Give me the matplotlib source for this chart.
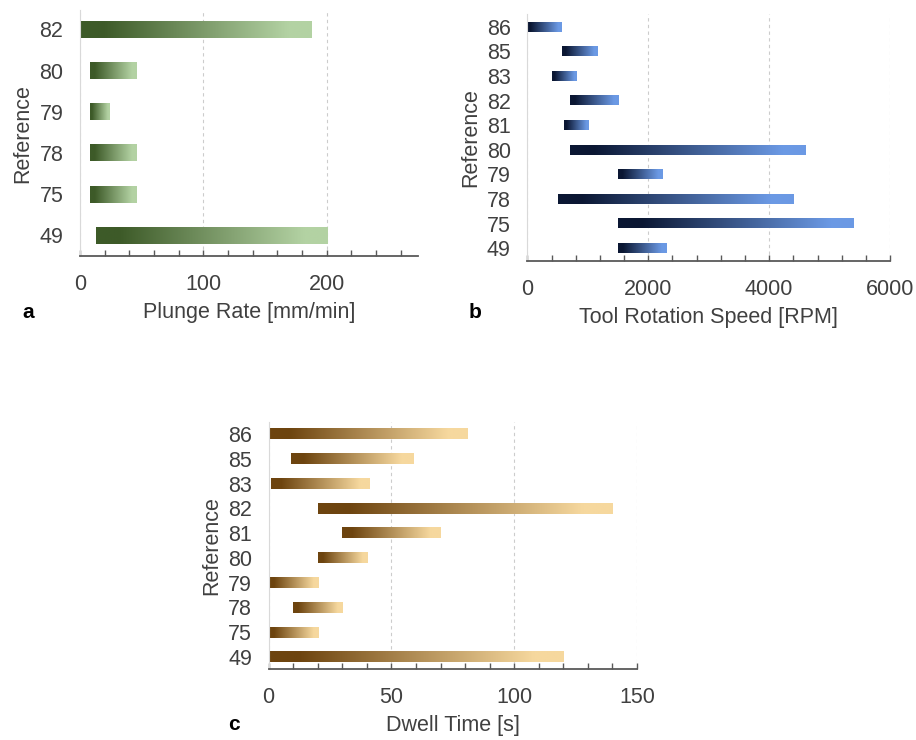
import matplotlib.pyplot as plt
import numpy as np
from matplotlib.colors import LinearSegmentedColormap
from matplotlib.ticker import MultipleLocator

plt.rcParams['font.family'] = ['Liberation Sans', 'DejaVu Sans']

# panel a - plunge rate
refs_a = ['49', '75', '78', '79', '80', '82']
start_a = [12.7, 8, 8, 8, 8, 0]
end_a = [200, 46, 46, 24, 46, 188]

# panel b - tool rotation speed
refs_b = ['49', '75', '78', '79', '80', '81', '82', '83', '85', '86']
start_b = [1500, 1500, 500, 1500, 700, 600, 700, 400, 570, 0]
end_b = [2300, 5400, 4400, 2240, 4600, 1000, 1500, 800, 1160, 570]

# panel c - dwell time
refs_c = ['49', '75', '78', '79', '80', '81', '82', '83', '85', '86']
start_c = [0, 0, 10, 0, 20, 30, 20, 1, 9, 0]
end_c = [120, 20, 30, 20, 40, 70, 140, 41, 59, 81]

TXT = '#404040'


def gradBars(ax, starts, ends, c0, c1, h):
  cmap = LinearSegmentedColormap.from_list('g', [(0, c0), (0.1, c0), (0.9, c1), (1, c1)])
  grad = np.linspace(0, 1, 256).reshape(1, -1)
  for i in range(len(starts)):
    ax.imshow(grad, cmap=cmap, aspect='auto', zorder=2, interpolation='bilinear',
              extent=[starts[i], ends[i], i - h / 2, i + h / 2])


def styleAxes(ax, refs, xlim, ylim, major, minor, xlabel):
  ax.set_yticks(range(len(refs)))
  ax.set_yticklabels(refs)
  ax.set_xlim(*xlim)
  ax.set_ylim(*ylim)
  ax.xaxis.set_major_locator(MultipleLocator(major))
  ax.xaxis.set_minor_locator(MultipleLocator(minor))
  ax.tick_params(axis='y', length=0, pad=12, labelsize=15.5, labelcolor=TXT)
  ax.tick_params(axis='x', which='both', direction='in', length=4, width=1,
                 color='#595959', pad=13, labelsize=15.5, labelcolor=TXT)
  for s in ['top', 'right']:
    ax.spines[s].set_visible(False)
  ax.spines['left'].set_color('#d9d9d9')
  ax.spines['bottom'].set_color('#595959')
  ax.spines['bottom'].set_linewidth(1.3)
  ax.set_axisbelow(True)
  ax.grid(axis='x', which='major', color='#cccccc', linestyle=(0, (3, 3)), lw=0.8)
  ax.set_xlabel(xlabel, fontsize=15.5, color=TXT, labelpad=5)
  ax.set_ylabel('Reference', fontsize=15.5, color=TXT, labelpad=4)


fig = plt.figure(figsize=(9.16, 7.4), dpi=100)

axA = fig.add_axes([0.0873, 0.654, 0.369, 0.332])
gradBars(axA, start_a, end_a, '#3d5a28', '#b3d2a3', 0.41)
styleAxes(axA, refs_a, (0, 274), (-0.5, 5.46), 100, 20, 'Plunge Rate [mm/min]')

axB = fig.add_axes([0.5757, 0.647, 0.396, 0.334])
gradBars(axB, start_b, end_b, '#0b1733', '#6b99e4', 0.39)
styleAxes(axB, refs_b, (0, 6000), (-0.53, 9.52), 2000, 400, 'Tool Rotation Speed [RPM]')

axC = fig.add_axes([0.2933, 0.0955, 0.402, 0.3346])
gradBars(axC, start_c, end_c, '#6d440f', '#f6d89e', 0.43)
styleAxes(axC, refs_c, (0, 150), (-0.5, 9.5), 50, 10, 'Dwell Time [s]')

fig.text(22 / 916, 1 - 313 / 740, 'a', fontsize=15, fontweight='bold', ha='left', va='center')
fig.text(469 / 916, 1 - 312 / 740, 'b', fontsize=15, fontweight='bold', ha='left', va='center')
fig.text(228 / 916, 1 - 725 / 740, 'c', fontsize=15, fontweight='bold', ha='left', va='center')

fig.savefig('out.png', dpi=100)
